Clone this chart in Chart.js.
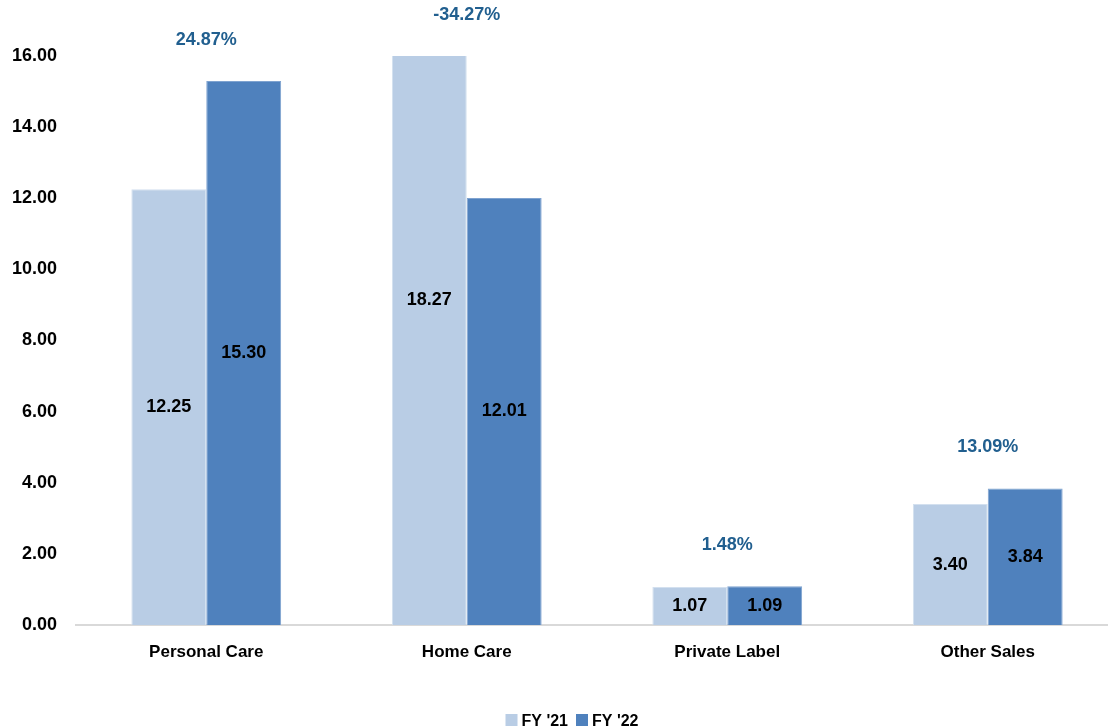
<!DOCTYPE html>
<html><head><meta charset="utf-8">
<script src="https://cdn.jsdelivr.net/npm/chart.js@4"></script>
<style>html,body{margin:0;padding:0;background:#fff;overflow:hidden;width:1108px;height:727px}#wrap{width:1120px;height:727px;position:relative}</style>
</head><body><div id="wrap"><canvas id="c" width="1120" height="727"></canvas></div>
<script>
const categories = ['Personal Care', 'Home Care', 'Private Label', 'Other Sales'];
const fy21 = [12.25, 18.27, 1.07, 3.40];
const fy22 = [15.30, 12.01, 1.09, 3.84];
const growthLabels = ['24.87%', '-34.27%', '1.48%', '13.09%'];
const yTicks = [0, 2, 4, 6, 8, 10, 12, 14, 16];
const seriesNames = ["FY '21", "FY '22"];
const FONT = '"Liberation Sans", Arial, sans-serif';

const labelsPlugin = {
  id: 'labelsPlugin',
  afterDatasetsDraw(chart) {
    const ctx = chart.ctx;
    const y = chart.scales.y, x = chart.scales.x;
    ctx.save();
    ctx.textAlign = 'center';
    ctx.textBaseline = 'middle';
    ctx.fillStyle = '#000';
    ctx.font = 'bold 18px ' + FONT;
    chart.data.datasets.forEach((ds, di) => {
      chart.getDatasetMeta(di).data.forEach((bar, i) => {
        const v = ds.data[i];
        ctx.fillText(v.toFixed(2), bar.x, y.getPixelForValue(v / 2));
      });
    });
    ctx.font = 'bold 18px ' + FONT;
    ctx.fillStyle = '#215F8F';
    categories.forEach((c, i) => {
      const top = Math.min(Math.max(fy21[i], fy22[i]), y.max);
      ctx.fillText(growthLabels[i], x.getPixelForValue(i), y.getPixelForValue(top) - 41);
    });
    // legend
    ctx.font = 'bold 16px ' + FONT;
    ctx.textAlign = 'left';
    ctx.textBaseline = 'alphabetic';
    const items = chart.data.datasets.map(d => ({t: d.label, c: d.backgroundColor}));
    const box = 12, gap = 4, sep = 8;
    let total = 0;
    items.forEach((it, k) => { it.w = box + gap + ctx.measureText(it.t).width; total += it.w + (k ? sep : 0); });
    let lx = 572 - total / 2;
    const ly = 726;
    items.forEach(it => {
      ctx.fillStyle = it.c;
      ctx.fillRect(lx, ly - 12, box, box);
      ctx.fillStyle = '#000';
      ctx.fillText(it.t, lx + box + gap, ly);
      lx += it.w + sep;
    });
    ctx.restore();
  }
};

new Chart(document.getElementById('c'), {
  type: 'bar',
  data: {
    labels: categories,
    datasets: [
      {label: seriesNames[0], data: fy21, backgroundColor: '#B9CDE5', borderColor: '#D3E0EF', borderWidth: 1, categoryPercentage: 0.575, barPercentage: 1},
      {label: seriesNames[1], data: fy22, backgroundColor: '#4F81BD', borderColor: '#7FA3D0', borderWidth: 1, categoryPercentage: 0.575, barPercentage: 1}
    ]
  },
  options: {
    responsive: false,
    animation: false,
    devicePixelRatio: 1,
    layout: {padding: {top: 56, right: 2, left: 0, bottom: 0}},
    plugins: {legend: {display: false}, tooltip: {enabled: false}},
    scales: {
      x: {
        grid: {display: false, drawTicks: false},
        border: {display: true, color: '#D9D9D9', width: 2},
        ticks: {color: '#000', font: {family: FONT, size: 17, weight: 'bold'}, padding: 17},
        afterFit(s) { s.height = 102; }
      },
      y: {
        min: 0, max: 16,
        afterBuildTicks(s) { s.ticks = yTicks.map(v => ({value: v})); },
        grid: {display: false, drawTicks: false},
        border: {display: false},
        ticks: {color: '#000', font: {family: FONT, size: 18, weight: 'bold'}, padding: 19, callback: v => Number(v).toFixed(2)},
        afterFit(s) { s.width = 76; }
      }
    }
  },
  plugins: [labelsPlugin]
});
</script></body></html>
